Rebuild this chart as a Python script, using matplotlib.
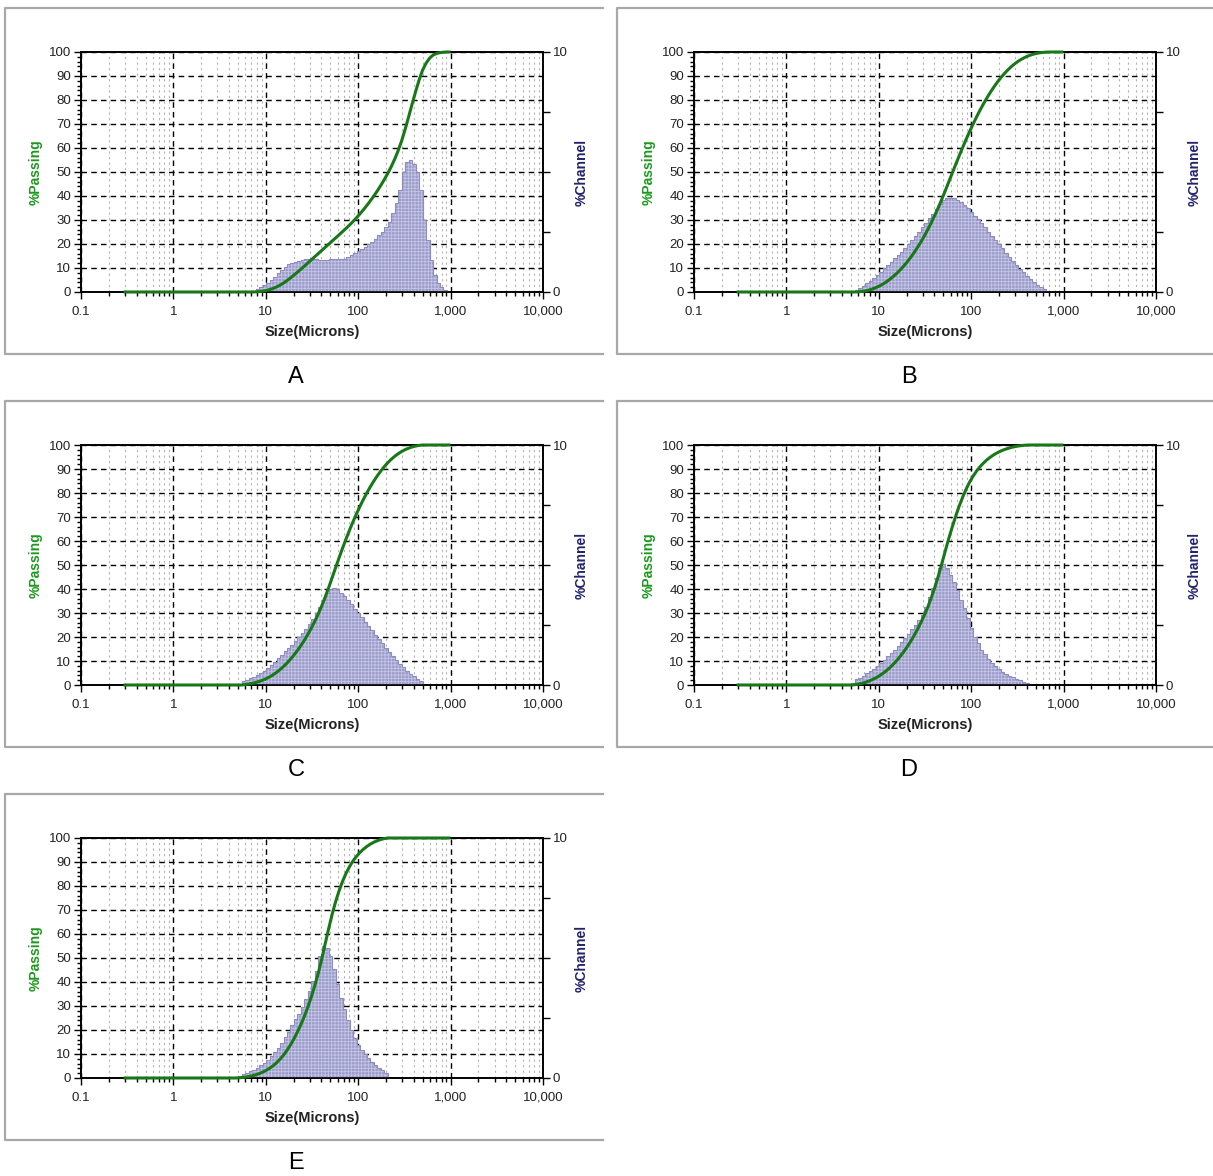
import numpy as np
import matplotlib.pyplot as plt
from matplotlib.lines import Line2D
from matplotlib.ticker import FixedLocator, LogLocator, MultipleLocator, NullFormatter

plt.rcParams['font.family'] = ['Liberation Sans', 'DejaVu Sans']
plt.rcParams['hatch.linewidth'] = 0.6

# Microtrac channel boundaries: top channel 704 um, 8 channels per octave
TOP_SIZE = 704.0
PER_OCTAVE = 8
CURVE_FIRST = -90   # 0.289 um, first boundary of the passing curve
CURVE_LAST = 4      # 995.6 um, last boundary of the passing curve

samples = ["A", "B", "C", "D", "E"]

# index of the lower boundary of the first non-empty channel
first_channel = [-53, -56, -56, -57, -58]

# % channel, read bin by bin
chan_a = [0.06, 0.11, 0.20, 0.29, 0.39, 0.50, 0.64, 0.78, 0.92, 1.06, 1.15, 1.22, 1.26, 1.30, 1.33,
          1.36, 1.36, 1.37, 1.36, 1.35, 1.35, 1.35, 1.36, 1.36, 1.37, 1.38,
          1.39, 1.44, 1.53, 1.61, 1.71, 1.79, 1.89, 1.99, 2.10, 2.22, 2.36, 2.51,
          2.69, 2.93, 3.28, 3.69, 4.25, 5.00, 5.40, 5.50,
          5.35, 5.00, 4.25, 3.00, 2.17, 1.33, 0.71, 0.36, 0.19, 0.08]
chan_b = [0.08, 0.15, 0.25, 0.36, 0.47, 0.60, 0.71, 0.85, 0.99, 1.13, 1.26, 1.40, 1.54, 1.68,
          1.85, 2.00, 2.17, 2.35, 2.51, 2.69, 2.88, 3.07, 3.25, 3.46, 3.65, 3.83,
          3.92, 3.93, 3.90, 3.85, 3.74, 3.63, 3.49, 3.35, 3.18, 3.03, 2.86, 2.69, 2.51,
          2.35, 2.17, 1.99, 1.82, 1.64, 1.47, 1.29, 1.13, 0.96, 0.82, 0.68, 0.54, 0.42,
          0.31, 0.21, 0.13, 0.06]
chan_c = [0.17, 0.22, 0.28, 0.35, 0.42, 0.50, 0.60, 0.72, 0.85, 0.97, 1.11, 1.25, 1.40, 1.54,
          1.68, 1.83, 1.99, 2.15, 2.33, 2.53, 2.74, 2.99, 3.26, 3.54, 3.82, 4.00,
          4.03, 3.99, 3.85, 3.71, 3.54, 3.36, 3.18, 3.00, 2.82, 2.64, 2.46, 2.28, 2.10,
          1.92, 1.74, 1.56, 1.38, 1.21, 1.04, 0.89, 0.74, 0.60, 0.47, 0.36, 0.26, 0.16]
chan_d = [0.10, 0.24, 0.31, 0.38, 0.49, 0.57, 0.68, 0.81, 0.93, 1.06, 1.19, 1.33, 1.47, 1.64,
          1.79, 1.96, 2.13, 2.32, 2.50, 2.71, 2.92, 3.26, 3.68, 4.03, 4.44, 4.86, 5.03,
          4.89, 4.58, 4.31, 3.96, 3.54, 3.19, 2.78, 2.36, 2.01, 1.74, 1.46, 1.28, 1.08,
          0.93, 0.79, 0.67, 0.56, 0.46, 0.39, 0.32, 0.25, 0.19, 0.14, 0.07]
chan_e = [0.06, 0.10, 0.15, 0.21, 0.28, 0.35, 0.42, 0.53, 0.63, 0.76, 0.90, 1.08, 1.26, 1.47,
          1.71, 1.93, 2.19, 2.44, 2.65, 2.97, 3.28, 3.63, 4.04, 4.46, 5.08, 5.50,
          5.43, 5.08, 4.53, 3.90, 3.35, 2.86, 2.40, 1.99, 1.65, 1.38, 1.17, 0.99, 0.82,
          0.68, 0.54, 0.43, 0.32, 0.20]
channels = [chan_a, chan_b, chan_c, chan_d, chan_e]

x_ticks = [0.1, 1, 10, 100, 1000, 10000]
x_ticklabels = ["0.1", "1", "10", "100", "1,000", "10,000"]
right_ticks = [0, 2.5, 5, 7.5, 10]
right_ticklabels = ["0", "", "", "", "10"]

PASS_GREEN = "#1c9a1c"
CURVE_GREEN = "#187818"
CHANNEL_NAVY = "#23236e"
BAR_FILL = "#9c9ccc"
BAR_HATCH = "#c6c6e4"
TEXT = "#222222"

W, H = 1213, 1176
fig = plt.figure(figsize=(W / 100, H / 100), dpi=100)


def channel_size(k):
    return TOP_SIZE * 2.0 ** (np.asarray(k) / PER_OCTAVE)


def passing_curve(first, pct):
    k = np.arange(CURVE_FIRST, CURVE_LAST + 1)
    cum = np.concatenate([[0.0], np.cumsum(pct)]) / np.sum(pct) * 100
    idx = np.clip(k - first, 0, len(pct))
    return channel_size(k), cum[idx]


def frame(col, row, label):
    # grey window frame (top, left, bottom) and the panel letter below it
    x0, x1 = 5 + 612 * col, 603 + 610 * col
    y0, y1 = 8 + 393 * row, 354 + 393 * row
    pts = [(x1, y0), (x0, y0), (x0, y1), (x1, y1)]
    fx = [p[0] / W for p in pts]
    fy = [1 - p[1] / H for p in pts]
    fig.add_artist(Line2D(fx, fy, transform=fig.transFigure, color="#a8a8a8", lw=1.6))
    fig.text((296 + 613 * col) / W, 1 - (377 + 393 * row) / H, label,
             ha="center", va="center", fontsize=17)


def panel(col, row, first, pct):
    left, top = 81 + 613 * col, 52 + 393 * row
    rect = [left / W, 1 - (top + 240) / H, 462 / W, 240 / H]
    ax = fig.add_axes(rect)
    ax.set_xscale("log")
    ax.set_xlim(0.1, 10000)
    ax.set_ylim(0, 100)

    ax.xaxis.set_major_locator(FixedLocator(x_ticks))
    ax.set_xticklabels(x_ticklabels)
    ax.xaxis.set_minor_locator(LogLocator(base=10, subs=np.arange(2, 10)))
    ax.xaxis.set_minor_formatter(NullFormatter())
    ax.yaxis.set_major_locator(MultipleLocator(10))
    ax.yaxis.set_minor_locator(MultipleLocator(2))

    ax.grid(True, which="major", axis="both", color="black", lw=1.0, ls=(0, (4, 3)))
    ax.grid(True, which="minor", axis="x", color="#b4b4b4", lw=0.8, ls=(0, (2, 3)))
    ax.tick_params(which="major", direction="out", length=5, width=1, labelsize=9.5,
                   labelcolor=TEXT)
    ax.tick_params(axis="x", which="major", pad=5)
    ax.tick_params(axis="y", which="major", pad=2)
    ax.tick_params(which="minor", direction="out", length=3, width=1)
    for s in ax.spines.values():
        s.set_linewidth(1.2)

    ax.set_xlabel("Size(Microns)", fontsize=10.5, fontweight="bold", color=TEXT, labelpad=5)
    ax.set_ylabel("%Passing", fontsize=10, fontweight="bold", color=PASS_GREEN)
    ax.yaxis.set_label_coords(-0.083, 0.5)

    # % channel histogram on the right-hand scale
    ch = ax.twinx()
    ch.set_ylim(0, 10)
    edges = channel_size(first + np.arange(len(pct) + 1))
    ch.bar(edges[:-1], pct, width=np.diff(edges), align="edge",
           facecolor=BAR_FILL, edgecolor=BAR_HATCH, hatch="+++++", linewidth=0)
    ch.stairs(pct, edges, color="#8c8cc0", lw=0.8)
    ch.yaxis.set_major_locator(FixedLocator(right_ticks))
    ch.set_yticklabels(right_ticklabels)
    ch.tick_params(direction="out", length=5, width=1, labelsize=9.5, pad=2, labelcolor=TEXT)
    for s in ch.spines.values():
        s.set_linewidth(1.2)
    ch.set_ylabel("%Channel", fontsize=10, fontweight="bold", color=CHANNEL_NAVY)
    ch.yaxis.set_label_coords(1.069, 0.5)

    # cumulative % passing drawn over the bars
    cv = ax.twinx()
    cv.set_ylim(0, 100)
    cv.set_axis_off()
    sizes, passing = passing_curve(first, pct)
    cv.plot(sizes, passing, color=CURVE_GREEN, lw=2.2, clip_on=False, solid_capstyle="butt")
    cv.set_xlim(0.1, 10000)


for i, (name, first, pct) in enumerate(zip(samples, first_channel, channels)):
    col, row = i % 2, i // 2
    frame(col, row, name)
    panel(col, row, first, pct)

fig.savefig("out.png", dpi=100)
